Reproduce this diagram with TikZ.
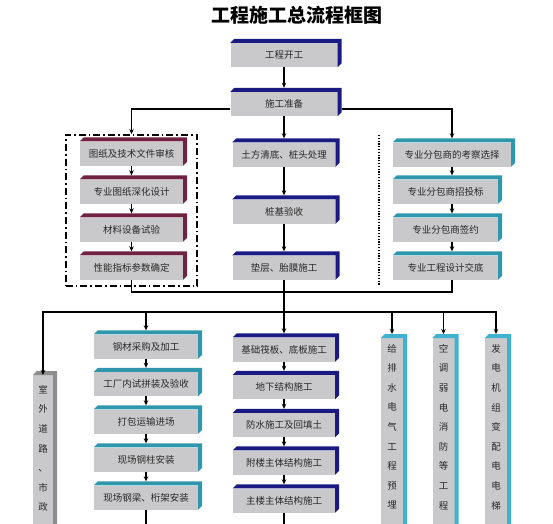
\documentclass[tikz,border=0pt]{standalone}
\usepackage{fontspec}
\setmainfont{Noto Sans CJK SC}
\usetikzlibrary{arrows.meta, calc, fit}
\definecolor{boxgray}{RGB}{201,201,203}
\definecolor{navyc}{RGB}{26,26,130}
\definecolor{wine}{RGB}{112,34,66}
\definecolor{tealc}{RGB}{48,150,172}
\definecolor{skyc}{RGB}{64,178,208}
\definecolor{ashc}{RGB}{140,140,140}
\definecolor{txt}{RGB}{40,40,40}
\newcommand\vtext[1]{\parbox[t][200pt][t]{12pt}{\centering\fontsize{9.5}{19.6}\selectfont #1}}

\begin{document}
\begin{tikzpicture}[x=1pt, y=-1pt,
    box/.style={fill=boxgray, inner sep=0pt, minimum height=24, text=txt, font=\fontsize{9.5}{11}\selectfont},
    vbox/.style={fill=boxgray, anchor=north, inner xsep=0pt, inner ysep=6pt, minimum width=22, text=txt},
    flow/.style={-{Stealth[length=5pt, width=4.5pt]}, line width=1.2pt},
    link/.style={line width=1.2pt},
    dashbox/.style={draw, line width=1.6pt, dash pattern=on 7pt off 3pt on 1.6pt off 3pt}
    ]

    \useasboundingbox (0,0) rectangle (553,523);
    \clip (0,0) rectangle (553,523);

    % 标题
    \node[font=\bfseries\fontsize{19}{22}\selectfont] (title) at (297,15) {工程施工总流程框图};

    % 开工、准备
    \node[box, minimum width=107] (start) at (284,55) {工程开工};
    \node[box, minimum width=107] (prep) at (284,104) {施工准备};

    % 左列
    \node[box, minimum width=103] (d1) at (131.5,153.5) {图纸及技术文件审核};
    \node[box, minimum width=103] (d2) at (131.5,191.5) {专业图纸深化设计};
    \node[box, minimum width=103] (d3) at (131.5,229.5) {材料设备试验};
    \node[box, minimum width=103] (d4) at (131.5,267.5) {性能指标参数确定};
    \node[dashbox, fit=(d1)(d4), inner xsep=14, inner ysep=6.5] (design) {};

    % 中列
    \node[box, minimum width=103] (mid1) at (284,154.5) {土方清底、桩头处理};
    \node[box, minimum width=103] (mid2) at (284,211.5) {桩基验收};
    \node[box, minimum width=103] (mid3) at (284,267.5) {垫层、胎膜施工};

    % 右列
    \node[box, minimum width=118] (sub1) at (452,154.5) {专业分包商的考察选择};
    \node[box, minimum width=105] (sub2) at (445.5,191.5) {专业分包商招投标};
    \node[box, minimum width=105] (sub3) at (445.5,229.5) {专业分包商签约};
    \node[box, minimum width=105] (sub4) at (445.5,267.5) {专业工程设计交底};

    % 钢结构
    \node[box, minimum width=104] (s1) at (146,346.5) {钢材采购及加工};
    \node[box, minimum width=104] (s2) at (146,384) {工厂内试拼装及验收};
    \node[box, minimum width=104] (s3) at (146,421.5) {打包运输进场};
    \node[box, minimum width=104] (s4) at (146,459.5) {现场钢柱安装};
    \node[box, minimum width=104] (s5) at (146,497.5) {现场钢梁、桁架安装};

    % 土建
    \node[box, minimum width=102] (lm1) at (284,349.5) {基础筏板、底板施工};
    \node[box, minimum width=102] (lm2) at (284,387) {地下结构施工};
    \node[box, minimum width=102] (lm3) at (284,425) {防水施工及回填土};
    \node[box, minimum width=102] (lm4) at (284,462.5) {附楼主体结构施工};
    \node[box, minimum width=102] (lm5) at (284,500.5) {主楼主体结构施工};

    % 竖排框
    \node[vbox, minimum width=20, inner ysep=10pt] (road) at (43,375) {\vtext{室\\外\\道\\路\\、\\市\\政}};
    \node[vbox] (pipe) at (392,338) {\vtext{给\\排\\水\\电\\气\\工\\程\\预\\埋}};
    \node[vbox] (hvac) at (443.5,338) {\vtext{空\\调\\弱\\电\\消\\防\\等\\工\\程}};
    \node[vbox] (power) at (496,338) {\vtext{发\\电\\机\\组\\变\\配\\电\\电\\梯}};

    % 立体边
    \foreach \n/\c in {start/navyc, prep/navyc, mid1/navyc, mid2/navyc, mid3/navyc,
        d1/wine, d2/wine, d3/wine, d4/wine,
        sub1/tealc, sub2/tealc, sub3/tealc, sub4/tealc,
        s1/tealc, s2/tealc, s3/tealc, s4/tealc, s5/tealc,
        lm1/navyc, lm2/navyc, lm3/navyc, lm4/navyc, lm5/navyc,
        road/ashc, pipe/skyc, hvac/skyc, power/skyc}
      \fill[\c] (\n.north west) -- ++(4,-4) -- ($(\n.north east)+(4,-4)$)
        -- ($(\n.south east)+(4,-4)$) -- (\n.south east) -- (\n.north east) -- cycle;

    % 连线
    \draw[flow] (start) -- ([yshift=4]prep.north);
    \draw[flow] ([yshift=-5]prep.west) -| (design.north);
    \draw[flow] ([xshift=4, yshift=-5]prep.east) -| ([yshift=4]sub1.north);
    \draw[flow] (prep) -- ([yshift=4]mid1.north);
    \draw[flow] (mid1) -- ([yshift=4]mid2.north);
    \draw[flow] (mid2) -- ([yshift=4]mid3.north);
    \draw[flow] (d1) -- ([yshift=4]d2.north);
    \draw[flow] (d2) -- ([yshift=4]d3.north);
    \draw[flow] (d3) -- ([yshift=4]d4.north);
    \draw[flow] (sub1.south) -- ($(sub1.south |- sub2.north)+(0,-4)$);
    \draw[flow] (sub1.south |- sub2.south) -- ($(sub1.south |- sub3.north)+(0,-4)$);
    \draw[flow] (sub1.south |- sub3.south) -- ($(sub1.south |- sub4.north)+(0,-4)$);
    \draw[line width=1.2pt, dash pattern=on 1.2pt off 1.6pt] (379,135) -- (379,285);

    % 汇合
    \coordinate (join) at (284,292);
    \coordinate (bus) at (284,312);
    \draw[link] (d4.south) |- (join) -| (sub1.south |- sub4.south);
    \draw[flow] (mid3) -- ([yshift=4]lm1.north);
    \draw[flow] (bus) -| (road.north);
    \draw[flow] (bus) -| ([yshift=4]s1.north);
    \draw[flow] (bus) -| ([yshift=4]pipe.north);
    \draw[flow] (bus) -| ([yshift=4]hvac.north);
    \draw[flow] (bus) -| ([yshift=4]power.north);
    \foreach \a/\b in {s1/s2, s2/s3, s3/s4, s4/s5, lm1/lm2, lm2/lm3, lm3/lm4, lm4/lm5}
      \draw[flow] (\a) -- ([yshift=4]\b.north);
    \draw[link] (s5.south) -- ++(0,20);
    \draw[link] (lm5.south) -- ++(0,20);

    \end{tikzpicture}
\end{document}
